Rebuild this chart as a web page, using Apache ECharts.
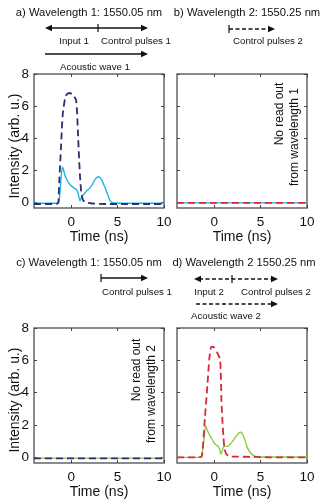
<!DOCTYPE html>
<html>
<head>
<meta charset="utf-8">
<script src="https://cdn.jsdelivr.net/npm/echarts@6/dist/echarts.min.js"></script>
<style>
  html, body { margin: 0; padding: 0; background: #fff; }
  #chart { width: 322px; height: 500px; }
</style>
</head>
<body>
<div id="chart"></div>
<script>
// ---- data (time in ns, intensity in arb. u.) ----
var xTicks = [0, 5, 10];
var yTicks = [0, 2, 4, 6, 8];

// a) wavelength 1, read-out pulse (dashed navy) and signal (cyan)
var ctrlA_t = [-4, -2, -1.5, -1.38, -1.27, -1.09, -0.9, -0.6, -0.3, -0.1, 0.2, 0.54, 0.72, 0.85, 0.98, 1.1, 1.27, 1.5, 1.8, 2.5, 4, 6, 8, 10];
var ctrlA_y = [-0.1, -0.1, -0.08, 0, 1.4, 3.46, 5.5, 6.6, 6.8, 6.8, 6.7, 6.35, 4.5, 2.8, 1.4, 0.6, 0.16, 0.02, -0.02, -0.08, -0.1, -0.1, -0.1, -0.1];
var sigA_t = [-4, -1.4, -1.27, -1.1, -0.95, -0.85, -0.7, -0.54, -0.3, 0, 0.3, 0.54, 0.7, 0.85, 0.95, 1.1, 1.27, 1.5, 1.8, 2.1, 2.35, 2.6, 2.9, 3.1, 3.3, 3.55, 3.8, 4.0, 4.17, 4.4, 4.7, 6, 8, 10];
var sigA_y = [-0.05, -0.05, 0.2, 1.4, 2.2, 2.1, 1.75, 1.5, 1.25, 1.03, 0.9, 0.8, 0.65, 0.3, 0.1, 0.3, 0.45, 0.6, 0.78, 0.95, 1.2, 1.45, 1.6, 1.55, 1.4, 1.05, 0.7, 0.4, 0.12, 0.0, -0.04, -0.05, -0.05, -0.05];

// b) wavelength 2, nothing read out
var ctrlB_t = [-4, 0, 5, 10];
var ctrlB_y = [-0.03, -0.03, -0.03, -0.03];
var sigB_t = [-4, 0, 5, 10];
var sigB_y = [-0.03, -0.03, -0.03, -0.03];

// c) wavelength 1, nothing read out
var ctrlC_t = [-4, 0, 5, 10];
var ctrlC_y = [-0.06, -0.06, -0.06, -0.06];
var sigC_t = [-4, 0, 5, 10];
var sigC_y = [-0.05, -0.05, -0.05, -0.05];

// d) wavelength 2, read-out pulse (dashed red) and signal (green)
var ctrlD_t = [-4, -2, -1.5, -1.35, -1.26, -1.0, -0.72, -0.5, -0.29, 0, 0.36, 0.65, 0.79, 0.9, 1.0, 1.1, 1.26, 1.5, 1.8, 2.5, 4, 6, 8, 10];
var ctrlD_y = [0, 0, 0.02, 0.05, 0.3, 2.4, 4.5, 6.2, 6.85, 6.8, 6.45, 6.0, 3.45, 2.2, 1.3, 0.6, 0.26, 0.1, 0.04, 0.04, 0.03, 0, 0, 0];
var sigD_t = [-4, -1.44, -1.3, -1.1, -0.9, -0.75, -0.54, -0.25, 0, 0.25, 0.43, 0.6, 0.72, 0.85, 1.0, 1.2, 1.44, 1.7, 1.99, 2.3, 2.7, 2.9, 3.07, 3.3, 3.6, 3.9, 4.15, 4.4, 4.69, 6, 8, 10];
var sigD_y = [0, 0, 0.2, 1.1, 1.96, 1.7, 1.43, 1.15, 0.9, 0.75, 0.68, 0.5, 0.19, 0.35, 0.64, 0.68, 0.68, 0.8, 1.0, 1.25, 1.53, 1.55, 1.43, 1.1, 0.57, 0.3, 0.15, 0.07, 0.04, 0.02, 0.02, 0.02];

var NAVY = '#2c2f6e', CYAN = '#20b4ea', RED = '#d7283c', GREEN = '#8dcb3e';
var FONT = 'Liberation Sans, Arial, sans-serif';
var FRAME = '#666';

function zip(t, y) {
  return t.map(function (v, i) { return [v, y[i]]; });
}

// panel rectangles
var panels = [
  {left: 34, top: 74, width: 130, height: 134, yLabels: true},
  {left: 177, top: 74, width: 130, height: 134, yLabels: false},
  {left: 34, top: 328, width: 130, height: 135, yLabels: true},
  {left: 177, top: 328, width: 130, height: 135, yLabels: false}
];

var grids = [], xAxes = [], yAxes = [];
panels.forEach(function (p, i) {
  grids.push({left: p.left, top: p.top, width: p.width, height: p.height,
    show: true, borderColor: FRAME, borderWidth: 1.5, backgroundColor: 'transparent'});
  var tick = {show: true, inside: true, length: 3, lineStyle: {color: '#444', width: 1}};
  var line = {show: false, onZero: false};
  // bottom x
  xAxes.push({type: 'value', gridIndex: i, min: -4, max: 10, position: 'bottom',
    axisLine: line, splitLine: {show: false},
    axisTick: Object.assign({customValues: xTicks}, tick),
    axisLabel: {customValues: xTicks, fontSize: 13.5, color: '#111', fontFamily: FONT, margin: 7},
    name: 'Time (ns)', nameLocation: 'middle', nameGap: 18,
    nameTextStyle: {fontSize: 14, color: '#111', fontFamily: FONT}});
  // top x (mirror ticks)
  xAxes.push({type: 'value', gridIndex: i, min: -4, max: 10, position: 'top',
    axisLine: line, splitLine: {show: false},
    axisTick: Object.assign({customValues: xTicks}, tick),
    axisLabel: {show: false}});
  // left y
  yAxes.push({type: 'value', gridIndex: i, min: -0.35, max: 8, position: 'left',
    axisLine: line, splitLine: {show: false},
    axisTick: Object.assign({customValues: yTicks}, tick),
    axisLabel: {show: p.yLabels, customValues: yTicks, fontSize: 13.5, color: '#111', fontFamily: FONT, margin: 5}});
  // right y (mirror ticks)
  yAxes.push({type: 'value', gridIndex: i, min: -0.35, max: 8, position: 'right',
    axisLine: line, splitLine: {show: false},
    axisTick: Object.assign({customValues: yTicks}, tick),
    axisLabel: {show: false}});
});

function solid(panel, data, color) {
  return {type: 'line', xAxisIndex: panel * 2, yAxisIndex: panel * 2, data: data,
    showSymbol: false, smooth: 0.25, lineStyle: {color: color, width: 1.4}, z: 2};
}
function dashed(panel, data, color) {
  return {type: 'line', xAxisIndex: panel * 2, yAxisIndex: panel * 2, data: data,
    showSymbol: false, smooth: 0.25, lineStyle: {color: color, width: 1.8, type: [7, 4]}, z: 3};
}

var series = [
  solid(0, zip(sigA_t, sigA_y), CYAN),
  dashed(0, zip(ctrlA_t, ctrlA_y), NAVY),
  solid(1, zip(sigB_t, sigB_y), CYAN),
  dashed(1, zip(ctrlB_t, ctrlB_y), RED),
  solid(2, zip(sigC_t, sigC_y), GREEN),
  dashed(2, zip(ctrlC_t, ctrlC_y), NAVY),
  solid(3, zip(sigD_t, sigD_y), GREEN),
  dashed(3, zip(ctrlD_t, ctrlD_y), RED)
];

// ---- annotation drawing helpers ----
var g = [];
function txt(s, x, y, size, rot) {
  g.push({type: 'text', x: x, y: y, rotation: rot || 0,
    style: {text: s, x: 0, y: 0, fill: '#111', fontSize: size, fontFamily: FONT,
      align: 'center', verticalAlign: 'middle', textAlign: 'center', textVerticalAlign: 'middle'}});
}
function head(x, y, dir) {
  var L = 7, H = 3.2;
  g.push({type: 'polygon', shape: {points: [[x, y], [x - dir * L, y - H], [x - dir * L, y + H]]},
    style: {fill: '#111'}});
}
function bar(x, y) {
  g.push({type: 'line', shape: {x1: x, y1: y - 4, x2: x, y2: y + 4}, style: {stroke: '#111', lineWidth: 1.2}});
}
function arrow(x1, x2, y, opt) {
  var a = x1 + (opt.leftHead ? 5 : 0), b = x2 - 5;
  g.push({type: 'line', shape: {x1: a, y1: y, x2: b, y2: y},
    style: {stroke: '#111', lineWidth: 1.3, lineDash: opt.dashed ? [4, 2.5] : null}});
  head(x2, y, 1);
  if (opt.leftHead) head(x1, y, -1);
  if (opt.leftBar) bar(x1, y);
  if (opt.midBar) bar(opt.midBar, y);
}

// panel a header
txt('a) Wavelength 1: 1550.05 nm', 89, 13, 11.2);
arrow(45, 148, 28, {leftHead: true, midBar: 98});
txt('Input 1', 74, 41, 9.7);
txt('Control pulses 1', 136, 41, 9.7);
arrow(45, 148, 54, {});
txt('Acoustic wave 1', 95, 67, 9.7);
// panel b header
txt('b) Wavelength 2: 1550.25 nm', 247, 13, 11.2);
arrow(229, 275, 29, {dashed: true, leftBar: true});
txt('Control pulses 2', 268, 41, 9.7);
// panel c header
txt('c) Wavelength 1: 1550.05 nm', 89, 263, 11.2);
arrow(101, 148, 278, {leftBar: true});
txt('Control pulses 1', 137, 292, 9.7);
// panel d header
txt('d) Wavelength 2 1550.25 nm', 244, 263, 11.2);
arrow(194, 278, 279, {dashed: true, leftHead: true, midBar: 232});
txt('Input 2', 209, 292, 9.7);
txt('Control pulses 2', 276, 292, 9.7);
arrow(196, 278, 304, {dashed: true});
txt('Acoustic wave 2', 226, 316, 9.7);

// y axis titles and "no read out" notes
txt('Intensity (arb. u.)', 15, 146, 14, Math.PI / 2);
txt('Intensity (arb. u.)', 15, 400, 14, Math.PI / 2);
txt('No read out', 280, 114, 12, Math.PI / 2);
txt('from wavelength 1', 295, 137, 12, Math.PI / 2);
txt('No read out', 137, 370, 12, Math.PI / 2);
txt('from wavelength 2', 152, 394, 12, Math.PI / 2);

var chart = echarts.init(document.getElementById('chart'), null, {renderer: 'canvas'});
chart.setOption({
  animation: false,
  backgroundColor: '#fff',
  grid: grids,
  xAxis: xAxes,
  yAxis: yAxes,
  series: series,
  graphic: {elements: g}
});
</script>
</body>
</html>
